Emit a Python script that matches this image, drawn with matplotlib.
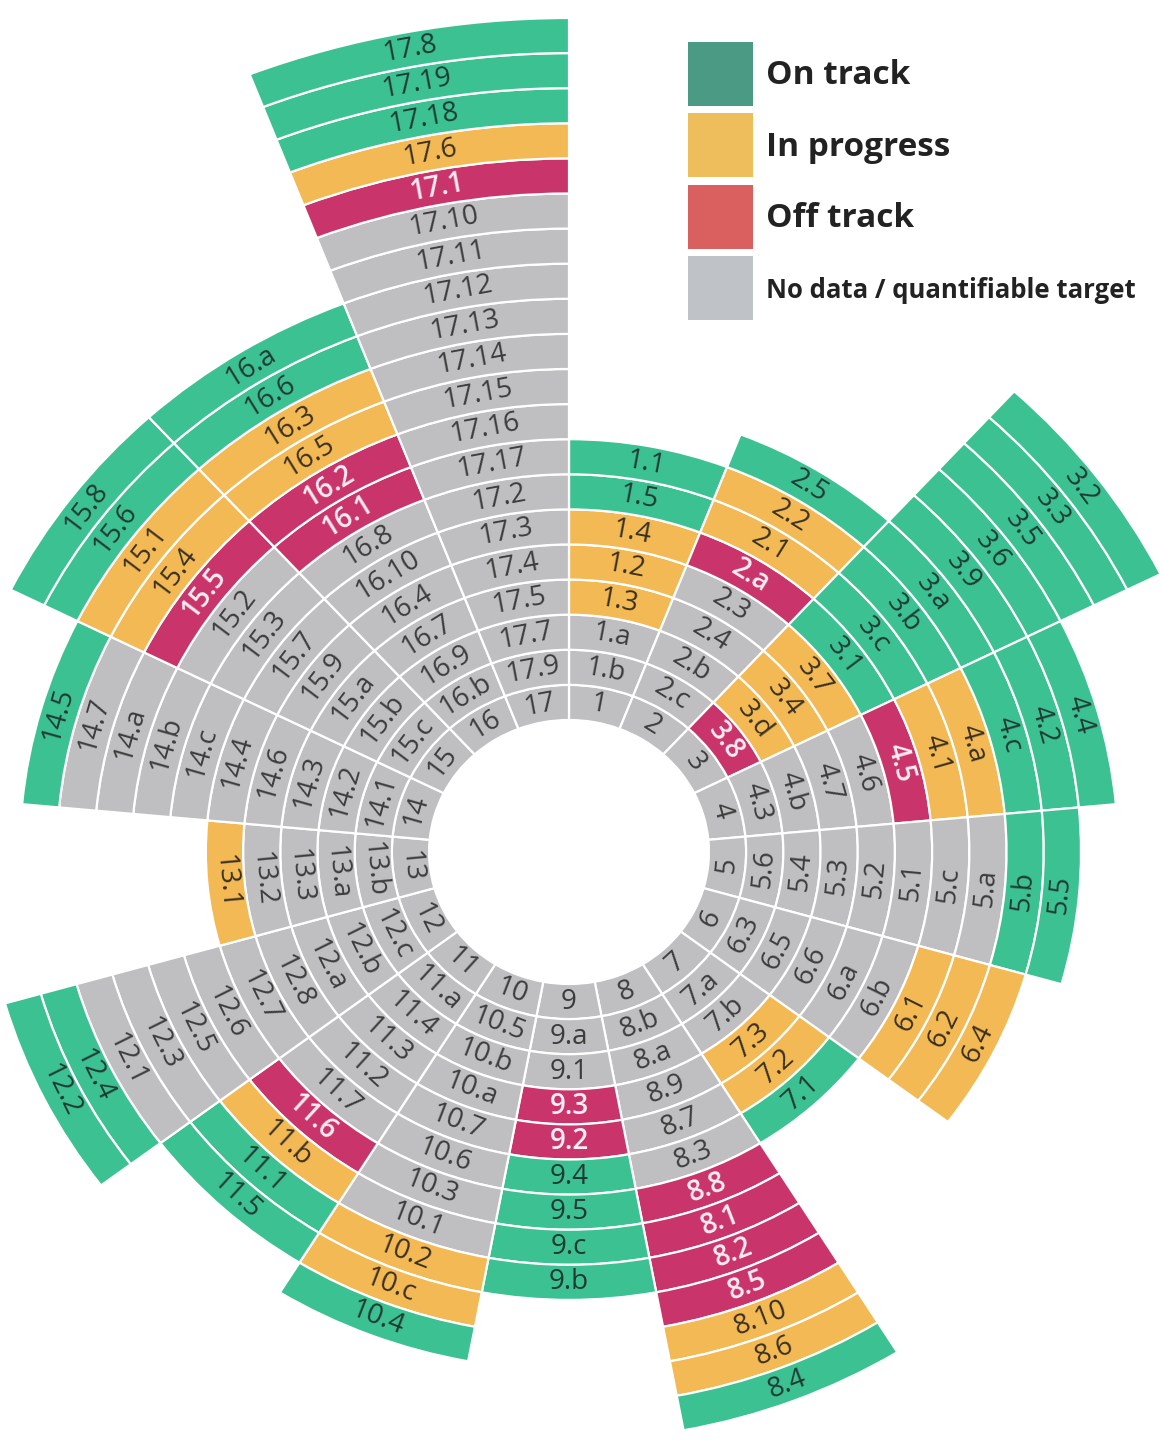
import matplotlib.pyplot as plt
import numpy as np
from matplotlib.patches import Patch

plt.rcParams['font.family'] = ['Open Sans', 'DejaVu Sans']

# targets of each goal, listed from the centre outwards
# status: g = on track, y = in progress, r = off track, n = no data
goal1 = ['1', '1.b', '1.a', '1.3', '1.2', '1.4', '1.5', '1.1']
stat1 = 'nnnyyygg'
goal2 = ['2', '2.c', '2.b', '2.4', '2.3', '2.a', '2.1', '2.2', '2.5']
stat2 = 'nnnnnryyg'
goal3 = ['3', '3.8', '3.d', '3.4', '3.7', '3.1', '3.c', '3.b', '3.a', '3.9', '3.6', '3.5', '3.3', '3.2']
stat3 = 'nryyyggggggggg'
goal4 = ['4', '4.3', '4.b', '4.7', '4.6', '4.5', '4.1', '4.a', '4.c', '4.2', '4.4']
stat4 = 'nnnnnryyggg'
goal5 = ['5', '5.6', '5.4', '5.3', '5.2', '5.1', '5.c', '5.a', '5.b', '5.5']
stat5 = 'nnnnnnnngg'
goal6 = ['6', '6.3', '6.5', '6.6', '6.a', '6.b', '6.1', '6.2', '6.4']
stat6 = 'nnnnnnyyy'
goal7 = ['7', '7.a', '7.b', '7.3', '7.2', '7.1']
stat7 = 'nnnyyg'
goal8 = ['8', '8.b', '8.a', '8.9', '8.7', '8.3', '8.8', '8.1', '8.2', '8.5', '8.10', '8.6', '8.4']
stat8 = 'nnnnnnrrrryyg'
goal9 = ['9', '9.a', '9.1', '9.3', '9.2', '9.4', '9.5', '9.c', '9.b']
stat9 = 'nnnrrgggg'
goal10 = ['10', '10.5', '10.b', '10.a', '10.7', '10.6', '10.3', '10.1', '10.2', '10.c', '10.4']
stat10 = 'nnnnnnnnyyg'
goal11 = ['11', '11.a', '11.4', '11.3', '11.2', '11.7', '11.6', '11.b', '11.1', '11.5']
stat11 = 'nnnnnnrygg'
goal12 = ['12', '12.c', '12.b', '12.a', '12.8', '12.7', '12.6', '12.5', '12.3', '12.1', '12.4', '12.2']
stat12 = 'nnnnnnnnnngg'
goal13 = ['13', '13.b', '13.a', '13.3', '13.2', '13.1']
stat13 = 'nnnnny'
goal14 = ['14', '14.1', '14.2', '14.3', '14.6', '14.4', '14.c', '14.b', '14.a', '14.7', '14.5']
stat14 = 'nnnnnnnnnng'
goal15 = ['15', '15.c', '15.b', '15.a', '15.9', '15.7', '15.3', '15.2', '15.5', '15.4', '15.1', '15.6', '15.8']
stat15 = 'nnnnnnnnryygg'
goal16 = ['16', '16.b', '16.9', '16.7', '16.4', '16.10', '16.8', '16.1', '16.2', '16.5', '16.3', '16.6', '16.a']
stat16 = 'nnnnnnnrryygg'
goal17 = ['17', '17.9', '17.7', '17.5', '17.4', '17.3', '17.2', '17.17', '17.16', '17.15', '17.14',
          '17.13', '17.12', '17.11', '17.10', '17.1', '17.6', '17.18', '17.19', '17.8']
stat17 = 'nnnnnnnnnnnnnnnryggg'

goals = [goal1, goal2, goal3, goal4, goal5, goal6, goal7, goal8, goal9,
         goal10, goal11, goal12, goal13, goal14, goal15, goal16, goal17]
stats = [stat1, stat2, stat3, stat4, stat5, stat6, stat7, stat8, stat9,
         stat10, stat11, stat12, stat13, stat14, stat15, stat16, stat17]

legend_labels = ['On track', 'In progress', 'Off track', 'No data / quantifiable target']

fill = {'g': '#3cc192', 'y': '#f3b954', 'r': '#c9356a', 'n': '#bfbfc1'}
txtcol = {'g': '#1f3a32', 'y': '#3a3020', 'r': '#fdeef3', 'n': '#3c3c3c'}
legcol = ['#4b9a83', '#eebd5c', '#d9605f', '#bfc3c7']

hole = 132.0
ring = 35.1
stretch = 1.06
rmax = 860.0

W, H = 1162, 1440
cx, cy = 569, H - 852

fig = plt.figure(figsize=(W / 100, H / 100), dpi=100)
aw, ah = 2 * rmax * stretch, 2 * rmax
ax = fig.add_axes([(cx - aw / 2) / W, (cy - ah / 2) / H, aw / W, ah / H], projection='polar')
ax.set_aspect('auto')
ax.set_theta_zero_location('N')
ax.set_theta_direction(-1)
ax.set_ylim(0, rmax)
ax.axis('off')

n = len(goals)
wd = 2 * np.pi / n

th, bot, cols = [], [], []
for i, (labs, st) in enumerate(zip(goals, stats)):
    t = (i + 0.5) * wd
    for k, (lab, s) in enumerate(zip(labs, st)):
        th.append(t)
        bot.append(hole + k * ring)
        cols.append(fill[s])
        deg = np.degrees(t)
        if 90 < deg < 270:
            rot = 180 - deg
        else:
            rot = -deg
        ax.text(t, hole + (k + 0.5) * ring, lab, rotation=rot, rotation_mode='anchor',
                ha='center', va='center', fontsize=20, color=txtcol[s],
                fontweight='semibold' if s == 'r' else 'normal')

ax.bar(th, ring, width=wd, bottom=bot, color=cols, edgecolor='white', linewidth=1.6, align='center')

handles = [Patch(facecolor=c, edgecolor='none') for c in legcol]
leg = fig.legend(handles, legend_labels, loc='upper left', bbox_to_anchor=(688 / W, 1 - 42 / H),
                 frameon=False, borderpad=0, borderaxespad=0,
                 handlelength=1.95, handleheight=2.58, labelspacing=0.22, handletextpad=0.4,
                 prop={'weight': 'bold', 'size': 24})
for tx in leg.get_texts():
    tx.set_color('#222222')
leg.get_texts()[3].set_fontsize(18.5)

fig.savefig('out.png', dpi=100)
